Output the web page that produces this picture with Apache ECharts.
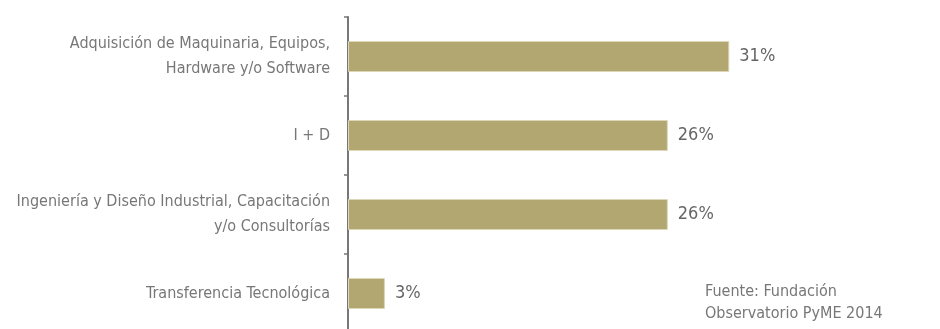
<!DOCTYPE html>
<html>
<head>
<meta charset="utf-8">
<script src="https://cdn.jsdelivr.net/npm/echarts@6/dist/echarts.min.js"></script>
<style>
  html, body { margin: 0; padding: 0; background: #fff; }
  #chart { width: 940px; height: 329px; }
</style>
</head>
<body>
<div id="chart"></div>
<script>
// Tipos de inversión en innovación (% de empresas)
var categories = [
  'Adquisición de Maquinaria, Equipos,\nHardware y/o Software',
  'I + D',
  'Ingeniería y Diseño Industrial, Capacitación\ny/o Consultorías',
  'Transferencia Tecnológica'
];
var values = [31, 26, 26, 3];
var sourceLines = ['Fuente: Fundación', 'Observatorio PyME 2014'];

var FONT = '"Liberation Sans Narrow", "DejaVu Sans Condensed", sans-serif';

var chart = echarts.init(document.getElementById('chart'));
chart.setOption({
  animation: false,
  grid: {
    left: 348, top: 17, width: 492, height: 316,
    containLabel: false, outerBoundsMode: 'none'
  },
  xAxis: {
    type: 'value', min: 0, max: 40,
    show: false
  },
  yAxis: {
    type: 'category',
    inverse: true,
    data: categories,
    axisLine: { show: true, lineStyle: { color: '#777', width: 2 } },
    axisTick: { show: true, length: 4, inside: false, lineStyle: { color: '#777', width: 1.5 } },
    axisLabel: {
      margin: 18, color: '#777', fontFamily: FONT, fontSize: 16, lineHeight: 25, align: 'right'
    },
    splitLine: { show: false }
  },
  series: [{
    type: 'bar',
    data: values,
    barWidth: 31,
    itemStyle: { color: '#b2a771', borderColor: '#ddd6b8', borderWidth: 1 },
    label: {
      show: true, position: 'right', distance: 10,
      formatter: '{c}%', color: '#666', fontFamily: FONT, fontSize: 18
    }
  }],
  graphic: [{
    type: 'text', left: 705, top: 281,
    style: {
      text: sourceLines.join('\n'), fill: '#777', font: '16px ' + FONT, lineHeight: 22
    }
  }]
});
</script>
</body>
</html>
